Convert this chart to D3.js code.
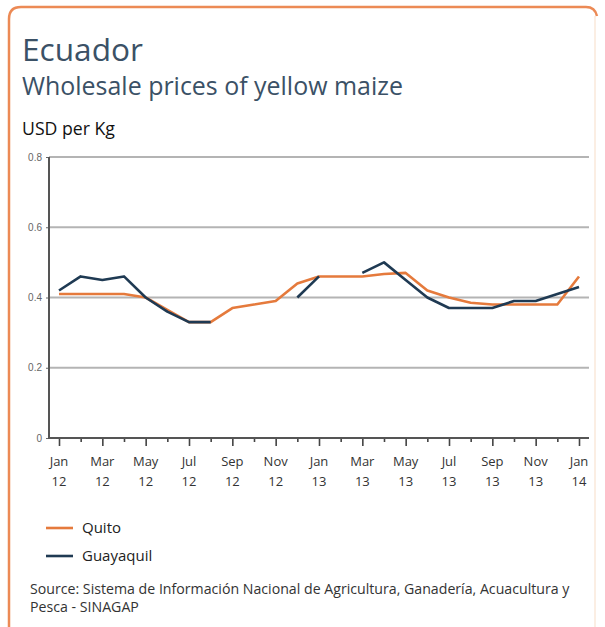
<!DOCTYPE html>
<html><head><meta charset="utf-8">
<script src="https://cdn.jsdelivr.net/npm/d3@7"></script>
<style>
html,body{margin:0;padding:0;background:#fff;}
svg{display:block;font-family:"Open Sans","Noto Sans",sans-serif;}
</style></head>
<body>
<svg id="chart" width="605" height="627"></svg>
<script>
// ---- data ----
const months = ["Jan 12","Feb 12","Mar 12","Apr 12","May 12","Jun 12","Jul 12","Aug 12","Sep 12","Oct 12","Nov 12","Dec 12",
  "Jan 13","Feb 13","Mar 13","Apr 13","May 13","Jun 13","Jul 13","Aug 13","Sep 13","Oct 13","Nov 13","Dec 13","Jan 14"];
const quito =     [0.41,0.41,0.41,0.41,0.40,0.365,0.33,0.33,0.37,0.38,0.39,0.44,0.46,0.46,0.46,0.467,0.47,0.42,0.40,0.385,0.38,0.38,0.38,0.38,0.46];
const guayaquil = [0.42,0.46,0.45,0.46,0.40,0.36,0.33,0.33,null,null,null,0.40,0.46,null,0.47,0.50,0.45,0.40,0.37,0.37,0.37,0.39,0.39,0.41,0.43];
const yTicks = [0,0.2,0.4,0.6,0.8];
const tickMonth = ["Jan","Mar","May","Jul","Sep","Nov","Jan","Mar","May","Jul","Sep","Nov","Jan"];
const tickYear  = ["12","12","12","12","12","12","13","13","13","13","13","13","14"];
const seriesNames = ["Quito","Guayaquil"];
const seriesColors = ["#e57a3c","#1f3a53"];

const svg = d3.select("#chart");

// frame
svg.append("path")
  .attr("d","M595,16 L595,640")
  .attr("fill","none").attr("stroke","#fbeee3").attr("stroke-width",2);
svg.append("path")
  .attr("d","M9,640 L9,19 Q9,7 21,7 L586,7 Q595,7 597,16")
  .attr("fill","none").attr("stroke","#ec8a55").attr("stroke-width",2.5);

// titles
function fitText(sel, targetW){
  const w = sel.node().getComputedTextLength();
  const fs = parseFloat(sel.attr("font-size"));
  sel.attr("font-size", fs*targetW/w);
  return fs*targetW/w;
}
fitText(svg.append("text").attr("x",22).attr("y",61).attr("font-size",30).attr("fill","#3b5166").text("Ecuador"),121);
fitText(svg.append("text").attr("x",22).attr("y",95).attr("font-size",22).attr("fill","#3b5166").text("Wholesale prices of yellow maize"),381);
fitText(svg.append("text").attr("x",22).attr("y",135).attr("font-size",14).attr("fill","#111").text("USD per Kg"),93);

// scales
const x = d3.scaleLinear().domain([0, months.length-1]).range([59,579]);
const y = d3.scaleLinear().domain([0,0.8]).range([438,157]);
const left = 49, right = 589;

// grid
svg.append("g").selectAll("line").data(yTicks.filter(d=>d>0)).join("line")
  .attr("x1",left).attr("x2",right).attr("y1",d=>y(d)).attr("y2",d=>y(d))
  .attr("stroke","#b4b4b4").attr("stroke-width",2.2);

// y axis
const yAxis = svg.append("g").attr("transform",`translate(${left},0)`)
  .call(d3.axisLeft(y).tickValues(yTicks).tickSize(3).tickPadding(4)
    .tickFormat(d=>d===0?"0":d.toFixed(1)));
yAxis.select(".domain").remove();
yAxis.selectAll(".tick line").attr("stroke","#666");
yAxis.selectAll("text").attr("font-size",10).attr("fill","#666");
svg.append("line").attr("x1",left).attr("x2",left).attr("y1",y(0.8)).attr("y2",y(0)+1)
  .attr("stroke","#555").attr("stroke-width",2);

// x axis
const xAxis = svg.append("g").attr("transform",`translate(0,${y(0)})`)
  .call(d3.axisBottom(x).tickValues(d3.range(months.length)).tickSize(7).tickFormat(""));
xAxis.select(".domain").remove();
xAxis.selectAll(".tick line").attr("stroke","#444").attr("stroke-width",1.6)
  .attr("y2",(d)=> d%2===0 ? 8 : 4);
svg.append("line").attr("x1",left).attr("x2",right).attr("y1",y(0)).attr("y2",y(0))
  .attr("stroke","#555").attr("stroke-width",2.2);
svg.append("g").selectAll("text").data(tickMonth).join("text")
  .attr("text-anchor","middle").attr("font-size",13).attr("fill","#333")
  .each(function(d,i){
    const t = d3.select(this);
    t.append("tspan").attr("x",x(i*2)).attr("y",466).text(d);
    t.append("tspan").attr("x",x(i*2)).attr("y",486).text(tickYear[i]);
  });

// lines
const line = d3.line().defined(d=>d!=null).x((d,i)=>x(i)).y(d=>y(d));
[quito, guayaquil].forEach((s,k)=>{
  svg.append("path").datum(s).attr("d",line)
    .attr("fill","none").attr("stroke",seriesColors[k]).attr("stroke-width",2.6)
    .attr("stroke-linejoin","round");
});

// legend
seriesNames.forEach((n,k)=>{
  const ly = 528 + k*28;
  svg.append("line").attr("x1",46).attr("x2",73).attr("y1",ly).attr("y2",ly)
    .attr("stroke",seriesColors[k]).attr("stroke-width",2.6);
  svg.append("text").attr("x",82).attr("y",ly+5).attr("font-size",15).attr("fill","#222").text(n);
});

// source
const fs = fitText(svg.append("text").attr("x",30).attr("y",594).attr("font-size",12).attr("fill","#333")
  .text("Source: Sistema de Información Nacional de Agricultura, Ganadería, Acuacultura y"),540);
svg.append("text").attr("x",30).attr("y",612).attr("font-size",fs).attr("fill","#333")
  .text("Pesca - SINAGAP");
</script>
</body></html>
